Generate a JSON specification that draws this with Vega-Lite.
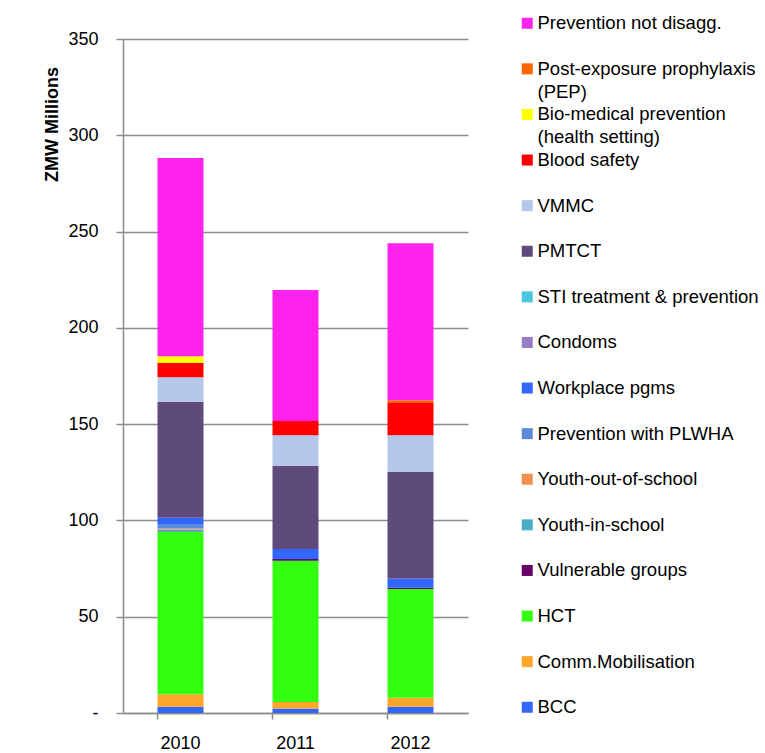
{
  "$schema": "https://vega.github.io/schema/vega-lite/v6.json",
  "width": 345,
  "height": 674,
  "autosize": {"type": "none"},
  "padding": {"left": 123, "top": 39, "right": 297, "bottom": 40},
  "background": "white",
  "config": {"view": {"stroke": null}, "font": "Liberation Sans"},
  "data": {"values": [
    {"year": "2010", "category": "BCC", "value": 3.3},
    {"year": "2010", "category": "Comm.Mobilisation", "value": 6.4},
    {"year": "2010", "category": "HCT", "value": 84.3},
    {"year": "2010", "category": "Vulnerable groups", "value": 0.3},
    {"year": "2010", "category": "Youth-in-school", "value": 1.0},
    {"year": "2010", "category": "Youth-out-of-school", "value": 0.5},
    {"year": "2010", "category": "Prevention with PLWHA", "value": 2.0},
    {"year": "2010", "category": "Workplace pgms", "value": 3.6},
    {"year": "2010", "category": "PMTCT", "value": 60.2},
    {"year": "2010", "category": "VMMC", "value": 12.8},
    {"year": "2010", "category": "Blood safety", "value": 7.4},
    {"year": "2010", "category": "Bio-medical prevention (health setting)", "value": 3.4},
    {"year": "2010", "category": "Prevention not disagg.", "value": 103.0},
    {"year": "2011", "category": "BCC", "value": 2.4},
    {"year": "2011", "category": "Comm.Mobilisation", "value": 3.3},
    {"year": "2011", "category": "HCT", "value": 73.3},
    {"year": "2011", "category": "Vulnerable groups", "value": 1.0},
    {"year": "2011", "category": "Workplace pgms", "value": 5.2},
    {"year": "2011", "category": "PMTCT", "value": 43.2},
    {"year": "2011", "category": "VMMC", "value": 15.8},
    {"year": "2011", "category": "Blood safety", "value": 7.4},
    {"year": "2011", "category": "Prevention not disagg.", "value": 68.0},
    {"year": "2012", "category": "BCC", "value": 3.3},
    {"year": "2012", "category": "Comm.Mobilisation", "value": 4.6},
    {"year": "2012", "category": "HCT", "value": 56.5},
    {"year": "2012", "category": "Vulnerable groups", "value": 0.7},
    {"year": "2012", "category": "Workplace pgms", "value": 4.8},
    {"year": "2012", "category": "PMTCT", "value": 55.4},
    {"year": "2012", "category": "VMMC", "value": 18.9},
    {"year": "2012", "category": "Blood safety", "value": 16.8},
    {"year": "2012", "category": "Post-exposure prophylaxis (PEP)", "value": 1.4},
    {"year": "2012", "category": "Prevention not disagg.", "value": 81.6}
  ]},
  "transform": [
    {"calculate": "indexof(['Prevention not disagg.','Post-exposure prophylaxis (PEP)','Bio-medical prevention (health setting)','Blood safety','VMMC','PMTCT','STI treatment & prevention','Condoms','Workplace pgms','Prevention with PLWHA','Youth-out-of-school','Youth-in-school','Vulnerable groups','HCT','Comm.Mobilisation','BCC'], datum.category)", "as": "k"}
  ],
  "mark": {"type": "bar"},
  "encoding": {
    "x": {
      "field": "year", "type": "nominal",
      "scale": {"paddingInner": 0.6, "paddingOuter": 0.3},
      "axis": {"title": null, "labelAngle": 0, "labelFontSize": 18, "labelColor": "black", "domainColor": "#8c8c8c", "domainWidth": 1.5, "tickColor": "#8c8c8c", "tickWidth": 1.5, "tickSize": 6, "bandPosition": 0, "labelPadding": 15, "grid": false}
    },
    "y": {
      "field": "value", "type": "quantitative", "stack": "zero",
      "scale": {"domain": [0, 350], "nice": false},
      "axis": {
        "values": [0, 50, 100, 150, 200, 250, 300, 350],
        "title": "ZMW Millions", "titleFontSize": 18, "titleFontWeight": "bold", "titleAngle": -90,
        "titleX": -71, "titleY": 85, "titleAlign": "center", "titleBaseline": "middle", "titleColor": "black",
        "labelFontSize": 18, "labelColor": "black", "labelPadding": 18, "tickSize": 7, "tickColor": "#8c8c8c", "tickWidth": 1.5,
        "domainColor": "#8c8c8c", "domainWidth": 1.5, "gridColor": "#8c8c8c", "gridWidth": 1.5,
        "labelExpr": "datum.value == 0 ? '-' : datum.label"
      }
    },
    "color": {
      "field": "category", "type": "nominal",
      "scale": {
        "domain": ["Prevention not disagg.", "Post-exposure prophylaxis (PEP)", "Bio-medical prevention (health setting)", "Blood safety", "VMMC", "PMTCT", "STI treatment & prevention", "Condoms", "Workplace pgms", "Prevention with PLWHA", "Youth-out-of-school", "Youth-in-school", "Vulnerable groups", "HCT", "Comm.Mobilisation", "BCC"],
        "range": ["#ff22ee", "#ff6600", "#ffff00", "#ff0000", "#b4c7ea", "#5f4b7b", "#4bc6e0", "#9a7bc6", "#3366ff", "#5b8bd8", "#f0904b", "#4bacc6", "#660066", "#33ff11", "#ffa62b", "#3366ff"]
      },
      "legend": {
        "title": null, "orient": "none", "legendX": 395, "legendY": -25,
        "symbolType": "square", "symbolSize": 121, "symbolStrokeWidth": 0,
        "labelFontSize": 18.5, "labelColor": "black", "labelLimit": 300, "labelOffset": 1,
        "rowPadding": 3.6, "gridAlign": "all",
        "labelExpr": "datum.label == 'Post-exposure prophylaxis (PEP)' ? ['Post-exposure prophylaxis', '(PEP)'] : datum.label == 'Bio-medical prevention (health setting)' ? ['Bio-medical prevention', '(health setting)'] : datum.label",
        "encode": {"labels": {"update": {"lineHeight": {"value": 23}}}}
      }
    },
    "order": {"field": "k", "type": "quantitative", "sort": "descending"}
  }
}
